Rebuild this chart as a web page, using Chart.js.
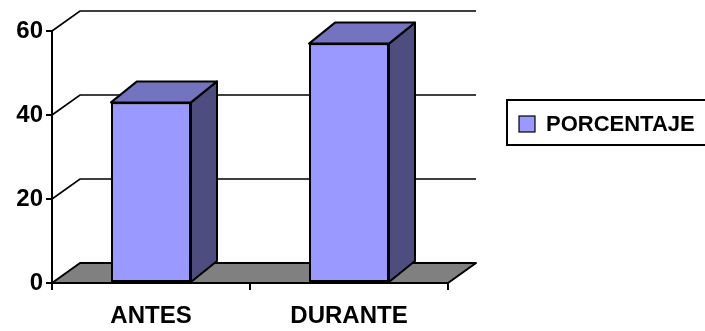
<!DOCTYPE html>
<html>
<head>
<meta charset="utf-8">
<script src="https://cdn.jsdelivr.net/npm/chart.js@4/dist/chart.umd.min.js"></script>
<style>
  html, body { margin: 0; padding: 0; background: #fff; overflow: hidden; }
  canvas { display: block; }
</style>
</head>
<body>
<canvas id="chart" width="705" height="331"></canvas>
<script>
// Values
const categories = ['ANTES', 'DURANTE'];
const porcentaje = [43, 57];
const seriesName = 'PORCENTAJE';
const yTickValues = [0, 20, 40, 60];

// Styling
const FONT = '"Liberation Sans", Arial, Helvetica, sans-serif';
const FRONT = '#9999FF';
const TOP = '#7373BF';
const SIDE = '#4D4D80';
const FLOOR = '#808080';
const WALL_DX = 28, WALL_DY = -20;   // depth of floor / back wall
const BAR_DX = 26, BAR_DY = -21;     // depth of each column

function poly(ctx, pts, fill, lw) {
  ctx.beginPath();
  ctx.moveTo(pts[0][0], pts[0][1]);
  for (let i = 1; i < pts.length; i++) ctx.lineTo(pts[i][0], pts[i][1]);
  ctx.closePath();
  ctx.fillStyle = fill;
  ctx.fill();
  ctx.lineWidth = lw || 2;
  ctx.strokeStyle = '#000';
  ctx.lineJoin = 'round';
  ctx.stroke();
}

// Back wall gridlines, floor, column sides/tops and the boxed legend
const depthPlugin = {
  id: 'depth3d',
  beforeDatasetsDraw(chart) {
    const { ctx, chartArea: a, scales: { y } } = chart;
    ctx.save();
    ctx.strokeStyle = '#000';
    ctx.lineWidth = 1.6;
    yTickValues.forEach(v => {
      if (v === y.min) return;
      const py = y.getPixelForValue(v);
      ctx.beginPath();
      ctx.moveTo(a.left, py);
      ctx.lineTo(a.left + WALL_DX, py + WALL_DY);
      ctx.lineTo(a.right + WALL_DX, py + WALL_DY);
      ctx.stroke();
    });
    const b = y.getPixelForValue(0);
    poly(ctx, [[a.left, b], [a.right, b], [a.right + WALL_DX, b + WALL_DY], [a.left + WALL_DX, b + WALL_DY]], FLOOR, 2);
    ctx.restore();
  },
  afterDatasetsDraw(chart) {
    const { ctx } = chart;
    const meta = chart.getDatasetMeta(0);
    ctx.save();
    meta.data.forEach(bar => {
      const { x, y, base, width } = bar.getProps(['x', 'y', 'base', 'width'], true);
      const l = x - width / 2, r = x + width / 2;
      poly(ctx, [[r, y], [r + BAR_DX, y + BAR_DY], [r + BAR_DX, base + BAR_DY], [r, base]], SIDE, 2);
      poly(ctx, [[l, y], [l + BAR_DX, y + BAR_DY], [r + BAR_DX, y + BAR_DY], [r, y]], TOP, 2);
    });
    ctx.restore();
  },
  afterDraw(chart) {
    const { ctx } = chart;
    const ds = chart.data.datasets[0];
    ctx.save();
    ctx.lineWidth = 2;
    ctx.strokeStyle = '#000';
    ctx.strokeRect(507, 100, 230, 45);
    ctx.fillStyle = ds.backgroundColor;
    ctx.fillRect(519, 116, 16, 16);
    ctx.lineWidth = 1.2;
    ctx.strokeRect(519, 116, 16, 16);
    ctx.fillStyle = '#000';
    ctx.font = 'bold 22px ' + FONT;
    ctx.textBaseline = 'middle';
    ctx.textAlign = 'left';
    ctx.fillText(ds.label, 546, 125);
    ctx.restore();
  }
};

new Chart(document.getElementById('chart'), {
  type: 'bar',
  data: {
    labels: categories,
    datasets: [{
      label: seriesName,
      data: porcentaje,
      backgroundColor: FRONT,
      borderColor: '#000',
      borderWidth: 2,
      borderSkipped: false,
      categoryPercentage: 1,
      barPercentage: 0.404
    }]
  },
  options: {
    responsive: false,
    animation: false,
    layout: { padding: { top: 31, right: 257, left: 0, bottom: 0 } },
    plugins: { legend: { display: false }, tooltip: { enabled: false } },
    scales: {
      x: {
        grid: { drawOnChartArea: false, drawTicks: true, tickLength: 7, color: '#000', lineWidth: 2, offset: true },
        border: { display: true, color: '#000', width: 2 },
        ticks: { color: '#000', font: { family: FONT, size: 24, weight: 'bold' }, padding: 12 },
        afterFit(s) { s.height = 48; }
      },
      y: {
        min: 0,
        max: 60,
        afterBuildTicks(s) { s.ticks = yTickValues.map(v => ({ value: v })); },
        grid: { drawOnChartArea: false, tickLength: 6, color: '#000', lineWidth: 2 },
        border: { display: true, color: '#000', width: 2 },
        ticks: { color: '#000', font: { family: FONT, size: 24, weight: 'bold' }, padding: 3 },
        afterFit(s) { s.width = 52; }
      }
    }
  },
  plugins: [depthPlugin]
});
</script>
</body>
</html>
